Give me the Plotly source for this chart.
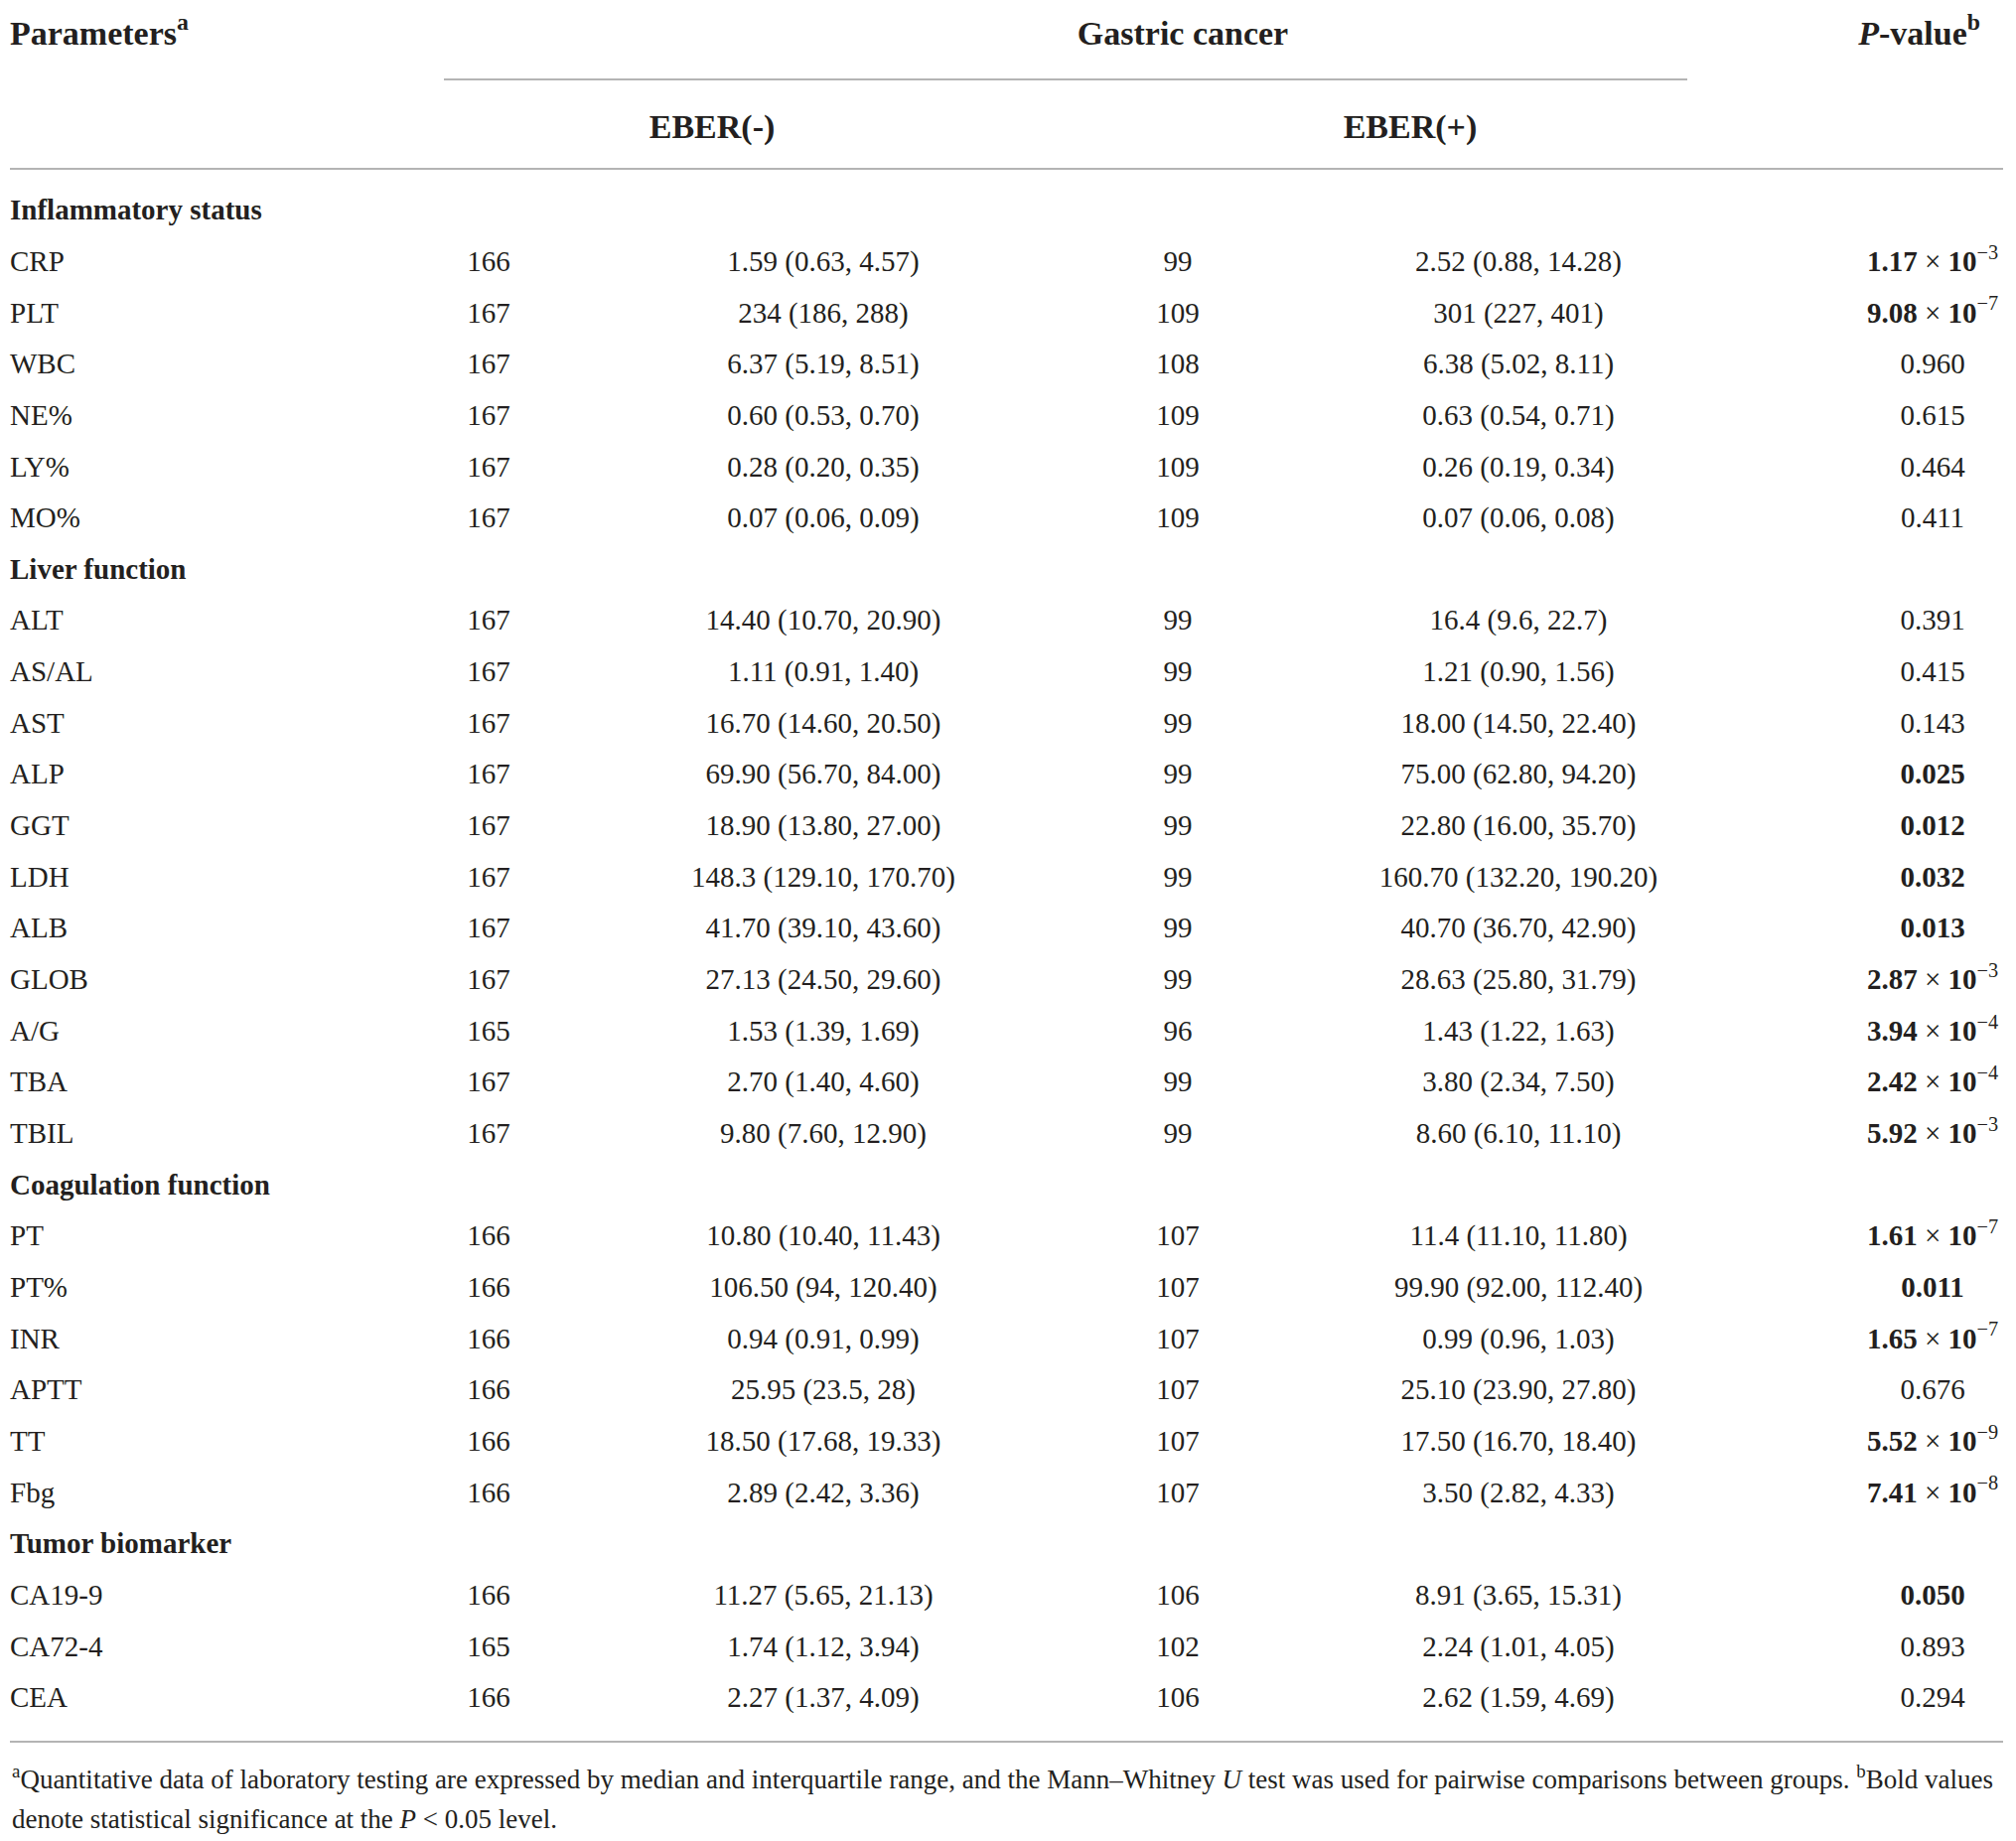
import plotly.graph_objects as go

# ---------------- data ----------------
sections = ["Inflammatory status", "Liver function", "Coagulation function", "Tumor biomarker"]

params = [
    ["CRP", "PLT", "WBC", "NE%", "LY%", "MO%"],
    ["ALT", "AS/AL", "AST", "ALP", "GGT", "LDH", "ALB", "GLOB", "A/G", "TBA", "TBIL"],
    ["PT", "PT%", "INR", "APTT", "TT", "Fbg"],
    ["CA19-9", "CA72-4", "CEA"],
]

n_neg = [
    [166, 167, 167, 167, 167, 167],
    [167, 167, 167, 167, 167, 167, 167, 167, 165, 167, 167],
    [166, 166, 166, 166, 166, 166],
    [166, 165, 166],
]

val_neg = [
    ["1.59 (0.63, 4.57)", "234 (186, 288)", "6.37 (5.19, 8.51)", "0.60 (0.53, 0.70)",
     "0.28 (0.20, 0.35)", "0.07 (0.06, 0.09)"],
    ["14.40 (10.70, 20.90)", "1.11 (0.91, 1.40)", "16.70 (14.60, 20.50)", "69.90 (56.70, 84.00)",
     "18.90 (13.80, 27.00)", "148.3 (129.10, 170.70)", "41.70 (39.10, 43.60)",
     "27.13 (24.50, 29.60)", "1.53 (1.39, 1.69)", "2.70 (1.40, 4.60)", "9.80 (7.60, 12.90)"],
    ["10.80 (10.40, 11.43)", "106.50 (94, 120.40)", "0.94 (0.91, 0.99)", "25.95 (23.5, 28)",
     "18.50 (17.68, 19.33)", "2.89 (2.42, 3.36)"],
    ["11.27 (5.65, 21.13)", "1.74 (1.12, 3.94)", "2.27 (1.37, 4.09)"],
]

n_pos = [
    [99, 109, 108, 109, 109, 109],
    [99, 99, 99, 99, 99, 99, 99, 99, 96, 99, 99],
    [107, 107, 107, 107, 107, 107],
    [106, 102, 106],
]

val_pos = [
    ["2.52 (0.88, 14.28)", "301 (227, 401)", "6.38 (5.02, 8.11)", "0.63 (0.54, 0.71)",
     "0.26 (0.19, 0.34)", "0.07 (0.06, 0.08)"],
    ["16.4 (9.6, 22.7)", "1.21 (0.90, 1.56)", "18.00 (14.50, 22.40)", "75.00 (62.80, 94.20)",
     "22.80 (16.00, 35.70)", "160.70 (132.20, 190.20)", "40.70 (36.70, 42.90)",
     "28.63 (25.80, 31.79)", "1.43 (1.22, 1.63)", "3.80 (2.34, 7.50)", "8.60 (6.10, 11.10)"],
    ["11.4 (11.10, 11.80)", "99.90 (92.00, 112.40)", "0.99 (0.96, 1.03)", "25.10 (23.90, 27.80)",
     "17.50 (16.70, 18.40)", "3.50 (2.82, 4.33)"],
    ["8.91 (3.65, 15.31)", "2.24 (1.01, 4.05)", "2.62 (1.59, 4.69)"],
]

# p-values: (mantissa, exponent or None)
p_values = [
    [(1.17, -3), (9.08, -7), (0.960, None), (0.615, None), (0.464, None), (0.411, None)],
    [(0.391, None), (0.415, None), (0.143, None), (0.025, None), (0.012, None), (0.032, None),
     (0.013, None), (2.87, -3), (3.94, -4), (2.42, -4), (5.92, -3)],
    [(1.61, -7), (0.011, None), (1.65, -7), (0.676, None), (5.52, -9), (7.41, -8)],
    [(0.050, None), (0.893, None), (0.294, None)],
]

header_params = "Parameters<sup>a</sup>"
header_group = "Gastric cancer"
header_p = "<i>P</i>-value<sup>b</sup>"
header_neg = "EBER(-)"
header_pos = "EBER(+)"
footnote_1 = ("<sup>a</sup>Quantitative data of laboratory testing are expressed by median and interquartile "
              "range, and the Mann\u2013Whitney <i>U</i> test was used for pairwise comparisons between groups. "
              "<sup>b</sup>Bold values")
footnote_2 = "denote statistical significance at the <i>P</i> < 0.05 level."
alpha = 0.05

# ---------------- layout constants ----------------
W, H = 2030, 1854
OFF = -8  # compensates the page's default body margin
X_LEFT = 10 + OFF
X_N1, X_V1, X_N2, X_V2, X_P = [v + OFF for v in (492, 829, 1186, 1529, 1946)]
X_GROUP, X_NEG, X_POS = [v + OFF for v in (1191, 717, 1420)]
X_PHEAD = 1994 + OFF
Y_HEAD, Y_SUB = 28, 122
Y_ROW0, DY = 214 + OFF, 39.9 * 1.2946
Y_LINE1, Y_LINE2, Y_LINE3 = 80 + OFF, 170 + OFF, 1754 + OFF
Y_FOOT1, Y_FOOT2 = 1790 + OFF, 1832 + OFF
LINE_X0, LINE_X1, SUB_X0, SUB_X1 = 10 + OFF, 2017 + OFF, 447 + OFF, 1699 + OFF
FONT = "Liberation Serif"
TXT = "#231f20"
BODY = 29
HEAD = 34
FOOT = 27
LINE = "#b4b4b4"


def fmt_p(m, e):
    if e is None:
        s = f"{m:.3f}"
        return f"<b>{s}</b>" if m <= alpha else s
    return f"<b>{m:.2f}</b> \u00d7 <b>10</b><sup>\u2212{-e}</sup>"


# build row lists
lab_txt, lab_y = [], []
rows_y, c_n1, c_v1, c_n2, c_v2, c_p = [], [], [], [], [], []
i = 0
for s, sec in enumerate(sections):
    lab_txt.append(f"<b>{sec}</b>")
    lab_y.append(Y_ROW0 + i * DY)
    i += 1
    for k, name in enumerate(params[s]):
        y = Y_ROW0 + i * DY
        lab_txt.append(name)
        lab_y.append(y)
        rows_y.append(y)
        c_n1.append(str(n_neg[s][k]))
        c_v1.append(val_neg[s][k])
        c_n2.append(str(n_pos[s][k]))
        c_v2.append(val_pos[s][k])
        c_p.append(fmt_p(*p_values[s][k]))
        i += 1

fig = go.Figure()


def add_text(xs, ys, texts, pos, size=BODY):
    fig.add_trace(go.Scatter(
        x=xs, y=ys, text=texts, mode="text", textposition=pos,
        textfont=dict(family=FONT, size=size, color=TXT),
        hoverinfo="skip", showlegend=False, cliponaxis=False))


add_text([X_LEFT] * len(lab_txt), lab_y, lab_txt, "middle right")
add_text([X_N1] * len(rows_y), rows_y, c_n1, "middle center")
add_text([X_V1] * len(rows_y), rows_y, c_v1, "middle center")
add_text([X_N2] * len(rows_y), rows_y, c_n2, "middle center")
add_text([X_V2] * len(rows_y), rows_y, c_v2, "middle center")
add_text([X_P] * len(rows_y), rows_y, c_p, "middle center")

# headers
add_text([X_LEFT], [Y_HEAD], [f"<b>{header_params}</b>"], "middle right", HEAD)
add_text([X_GROUP], [Y_HEAD], [f"<b>{header_group}</b>"], "middle center", HEAD)
add_text([X_PHEAD], [Y_HEAD], [f"<b>{header_p}</b>"], "middle left", HEAD)
add_text([X_NEG], [Y_SUB], [f"<b>{header_neg}</b>"], "middle center", HEAD)
add_text([X_POS], [Y_SUB], [f"<b>{header_pos}</b>"], "middle center", HEAD)

# rules
for x0, x1, y in [(SUB_X0, SUB_X1, Y_LINE1), (LINE_X0, LINE_X1, Y_LINE2), (LINE_X0, LINE_X1, Y_LINE3)]:
    fig.add_shape(type="line", x0=x0, x1=x1, y0=y, y1=y, xref="x", yref="y",
                  line=dict(color=LINE, width=2))

# footnotes
for txt, y in [(footnote_1, Y_FOOT1), (footnote_2, Y_FOOT2)]:
    fig.add_annotation(x=X_LEFT, y=y, xref="x", yref="y", text=txt, showarrow=False,
                       xanchor="left", yanchor="middle", font=dict(family=FONT, size=FOOT, color=TXT))

fig.update_layout(
    width=W, height=H, margin=dict(l=0, r=0, t=0, b=0),
    paper_bgcolor="white", plot_bgcolor="white",
    xaxis=dict(range=[0, W], visible=False, fixedrange=True),
    yaxis=dict(range=[H, 0], visible=False, fixedrange=True),
)

fig.write_html("out.html")
